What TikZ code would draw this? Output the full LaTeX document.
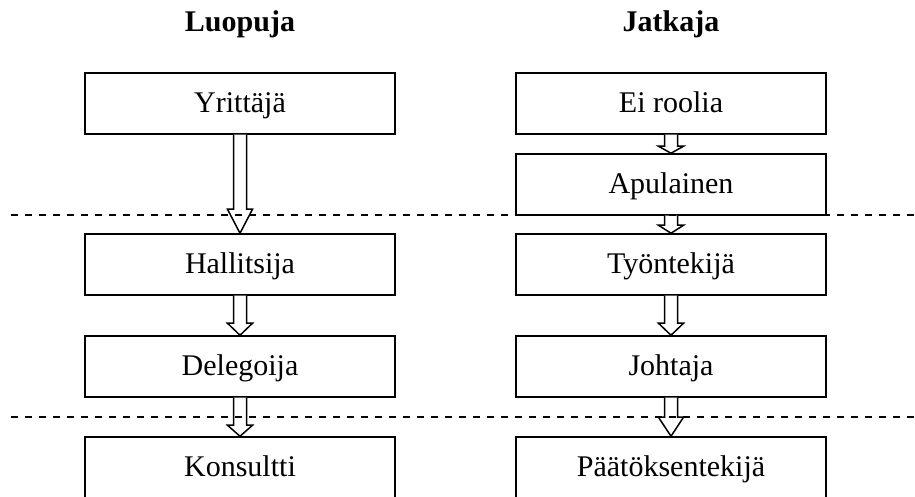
\documentclass[tikz,border=0pt]{standalone}
\usepackage{fontspec}
\setmainfont{Liberation Serif}
\usetikzlibrary{calc}

% hollow block arrow: from node, to node, head length
\newcommand{\blockarrow}[3]{%
  \draw[flowarrow] ($(#1.south)+(-6.5,0)$) -- ($(#2.north)+(-6.5,-#3)$)
    -- ($(#2.north)+(-12.5,-#3)$) -- (#2.north) -- ($(#2.north)+(12.5,-#3)$)
    -- ($(#2.north)+(6.5,-#3)$) -- ($(#1.south)+(6.5,0)$);}

\begin{document}
\begin{tikzpicture}[x=0.4pt, y=-0.4pt, font=\fontsize{12}{14}\selectfont,
  rolebox/.style={draw, line width=0.6pt, minimum width=124pt, minimum height=24.4pt,
    inner sep=0pt, text height=9pt, text depth=1.4pt},
  header/.style={font=\fontsize{12}{14}\selectfont\bfseries, anchor=base},
  flowarrow/.style={draw, fill=white, line width=0.6pt, line join=miter},
  phase/.style={line width=0.6pt, dash pattern=on 2.8pt off 2.8pt}]
  \clip (0,0) rectangle (915,497);

  % column titles
  \node[header] (luopuja) at (240,32) {Luopuja};
  \node[header] (jatkaja) at (671,32) {Jatkaja};

  % left column
  \node[rolebox] (yrittaja)  at (240,103.5) {Yrittäjä};
  \node[rolebox] (hallitsija) at (240,264.5) {Hallitsija};
  \node[rolebox] (delegoija) at (240,366.5) {Delegoija};
  \node[rolebox] (konsultti) at (240,467.5) {Konsultti};

  % right column
  \node[rolebox] (eirooli)   at (671,103.5) {Ei roolia};
  \node[rolebox] (apulainen) at (671,184.5) {Apulainen};
  \node[rolebox] (tyontekija) at (671,264.5) {Työntekijä};
  \node[rolebox] (johtaja)   at (671,366.5) {Johtaja};
  \node[rolebox] (paattaja)  at (671,467.5) {Päätöksentekijä};

  \blockarrow{yrittaja}{hallitsija}{24}
  \blockarrow{hallitsija}{delegoija}{12}
  \blockarrow{delegoija}{konsultti}{11}
  \blockarrow{eirooli}{apulainen}{7}
  \blockarrow{apulainen}{tyontekija}{8}
  \blockarrow{tyontekija}{johtaja}{12}
  \blockarrow{johtaja}{paattaja}{19}

  % phase borders
  \draw[phase] (11,215) -- (915,215);
  \draw[phase] (11,417) -- (915,417);
\end{tikzpicture}
\end{document}
